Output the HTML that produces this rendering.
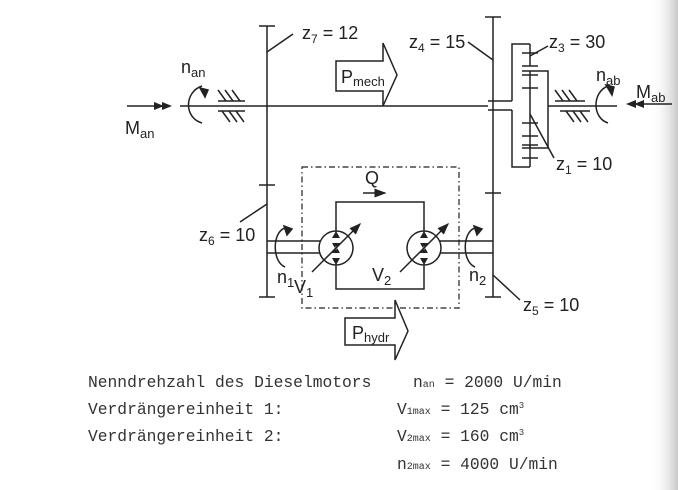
<!DOCTYPE html>
<html><head><meta charset="utf-8"><style>
html,body{margin:0;padding:0;background:#fff;}
svg{display:block;}
text{font-family:"Liberation Sans",sans-serif;fill:#222;}
.m{font-family:"Liberation Mono",monospace;font-size:16.3px;fill:#333;}
</style></head><body>
<svg width="678" height="490" viewBox="0 0 678 490" xmlns="http://www.w3.org/2000/svg">
<defs>
<linearGradient id="g" x1="0" x2="1"><stop offset="0" stop-color="#fff" stop-opacity="0"/><stop offset="1" stop-color="#c8c8c8"/></linearGradient>
<marker id="ah" markerWidth="8" markerHeight="6" refX="7" refY="3" orient="auto"><path d="M0,0L8,3L0,6z" fill="#222"/></marker>
</defs>
<rect x="650" y="0" width="28" height="490" fill="url(#g)"/>
<g stroke="#222" stroke-width="1.5" fill="none">
<line x1="180" y1="106" x2="488" y2="106"/>
<line x1="548" y1="106" x2="617" y2="106"/>
<line x1="127" y1="106" x2="170" y2="106"/>
<path d="M154,102L164,106L154,110z M162,102L172,106L162,110z" fill="#222" stroke="none"/>
<path d="M202,86 C184,92 184,118 202,123"/>
<path d="M200,88L208,90L205,97z" fill="#222"/>
<line x1="218" y1="101" x2="245" y2="101"/>
<line x1="218" y1="111" x2="245" y2="111"/>
<path d="M218,90L226,101 M225,90L233,101 M232,90L240,101 M222,111L230,122 M229,111L237,122 M236,111L244,122"/>
<line x1="267" y1="26" x2="267" y2="297"/>
<line x1="259" y1="26" x2="275" y2="26"/>
<line x1="259" y1="185" x2="275" y2="185"/>
<line x1="259" y1="297" x2="275" y2="297"/>
<line x1="267" y1="52" x2="293" y2="34"/>
<line x1="267" y1="204" x2="240" y2="222"/>
<line x1="493" y1="17" x2="493" y2="297"/>
<line x1="485" y1="17" x2="501" y2="17"/>
<line x1="485" y1="193" x2="501" y2="193"/>
<line x1="485" y1="297" x2="501" y2="297"/>
<line x1="493" y1="60" x2="468" y2="42"/>
<line x1="493" y1="275" x2="520" y2="300"/>
<line x1="488" y1="101" x2="512" y2="101"/>
<line x1="488" y1="110" x2="512" y2="110"/>
<path d="M512,101V44H530 M512,110V167H530"/>
<line x1="530" y1="44" x2="530" y2="66"/>
<line x1="522" y1="53" x2="538" y2="53"/>
<line x1="522" y1="66" x2="538" y2="66"/>
<line x1="530" y1="145" x2="530" y2="167"/>
<line x1="522" y1="145" x2="538" y2="145"/>
<line x1="522" y1="158" x2="538" y2="158"/>
<path d="M522,71H548V148H522"/>
<line x1="530" y1="71" x2="530" y2="148"/>
<line x1="522" y1="75" x2="538" y2="75"/>
<line x1="522" y1="88" x2="538" y2="88"/>
<line x1="522" y1="123" x2="538" y2="123"/>
<line x1="522" y1="136" x2="538" y2="136"/>
<line x1="530" y1="56" x2="548" y2="46"/>
<line x1="530" y1="114" x2="554" y2="158"/>
<line x1="555" y1="101" x2="585" y2="101"/>
<line x1="560" y1="111" x2="590" y2="111"/>
<path d="M555,90L563,101 M562,90L570,101 M569,90L577,101 M566,111L574,122 M573,111L581,122 M580,111L588,122"/>
<path d="M608,86 C592,92 592,118 608,123"/>
<path d="M606,85L614,87L612,95z" fill="#222"/>
<line x1="632" y1="104" x2="672" y2="104"/>
<path d="M636,100L626,104L636,108z M644,100L634,104L644,108z" fill="#222" stroke="none"/>
<path d="M336,61H383V43L397,75L383,106V91H336z" fill="#fff"/>
<rect x="302" y="167" width="157" height="141" stroke-dasharray="6,3,1.5,3" stroke-width="1.2"/>
<line x1="267" y1="241" x2="320" y2="241"/>
<line x1="267" y1="253" x2="320" y2="253"/>
<line x1="440" y1="241" x2="493" y2="241"/>
<line x1="440" y1="253" x2="493" y2="253"/>
<path d="M336,231V202H424V231 M336,265V289H424V265"/>
<circle cx="336" cy="248" r="17" fill="#fff"/>
<circle cx="424" cy="248" r="17" fill="#fff"/>
<path d="M336,231L332,238H340z M336,265L332,258H340z M336,250L332,243H340z M336,246L332,253H340z" fill="#222" stroke="none"/>
<path d="M424,231L420,238H428z M424,265L420,258H428z M424,250L420,243H428z M424,246L420,253H428z" fill="#222" stroke="none"/>
<line x1="312" y1="272" x2="360" y2="224" marker-end="url(#ah)"/>
<line x1="400" y1="272" x2="448" y2="224" marker-end="url(#ah)"/>
<path d="M285,228 C272,232 272,262 285,267"/>
<path d="M284,226L292,229L287,235z" fill="#222"/>
<path d="M475,228 C462,232 462,262 475,267"/>
<path d="M474,226L482,229L477,235z" fill="#222"/>
<line x1="363" y1="193" x2="385" y2="193" marker-end="url(#ah)"/>
<path d="M345,318H395V300L408,331L395,360V345H345z" fill="#fff"/>
</g>
<g font-size="18">
<text x="302" y="39">z<tspan font-size="12" dy="4">7</tspan><tspan dy="-4"> = 12</tspan></text>
<text x="409" y="48">z<tspan font-size="12" dy="4">4</tspan><tspan dy="-4"> = 15</tspan></text>
<text x="549" y="48">z<tspan font-size="12" dy="4">3</tspan><tspan dy="-4"> = 30</tspan></text>
<text x="556" y="170">z<tspan font-size="12" dy="4">1</tspan><tspan dy="-4"> = 10</tspan></text>
<text x="199" y="241">z<tspan font-size="12" dy="4">6</tspan><tspan dy="-4"> = 10</tspan></text>
<text x="523" y="311">z<tspan font-size="12" dy="4">5</tspan><tspan dy="-4"> = 10</tspan></text>
<text x="181" y="73">n<tspan font-size="13" dy="4">an</tspan></text>
<text x="125" y="134">M<tspan font-size="13" dy="4">an</tspan></text>
<text x="596" y="81">n<tspan font-size="13" dy="4">ab</tspan></text>
<text x="636" y="98">M<tspan font-size="13" dy="4">ab</tspan></text>
<text x="341" y="83">P<tspan font-size="13" dy="3">mech</tspan></text>
<text x="352" y="339">P<tspan font-size="13" dy="3">hydr</tspan></text>
<text x="365" y="184">Q</text>
<text x="277" y="283">n<tspan font-size="13" dy="4">1</tspan></text>
<text x="294" y="293">V<tspan font-size="13" dy="4">1</tspan></text>
<text x="372" y="281">V<tspan font-size="13" dy="4">2</tspan></text>
<text x="469" y="281">n<tspan font-size="13" dy="4">2</tspan></text>
</g>
<text class="m" x="88" y="387">Nenndrehzahl des Dieselmotors</text>
<text class="m" x="88" y="414">Verdrängereinheit 1:</text>
<text class="m" x="88" y="441">Verdrängereinheit 2:</text>
<text class="m" x="413" y="387">n<tspan font-size="10">an</tspan> = 2000 U/min</text>
<text class="m" x="397" y="414">V<tspan font-size="10">1max</tspan> = 125 cm<tspan font-size="9" dy="-6">3</tspan></text>
<text class="m" x="397" y="441">V<tspan font-size="10">2max</tspan> = 160 cm<tspan font-size="9" dy="-6">3</tspan></text>
<text class="m" x="397" y="469">n<tspan font-size="10">2max</tspan> = 4000 U/min</text>
</svg>
</body></html>
